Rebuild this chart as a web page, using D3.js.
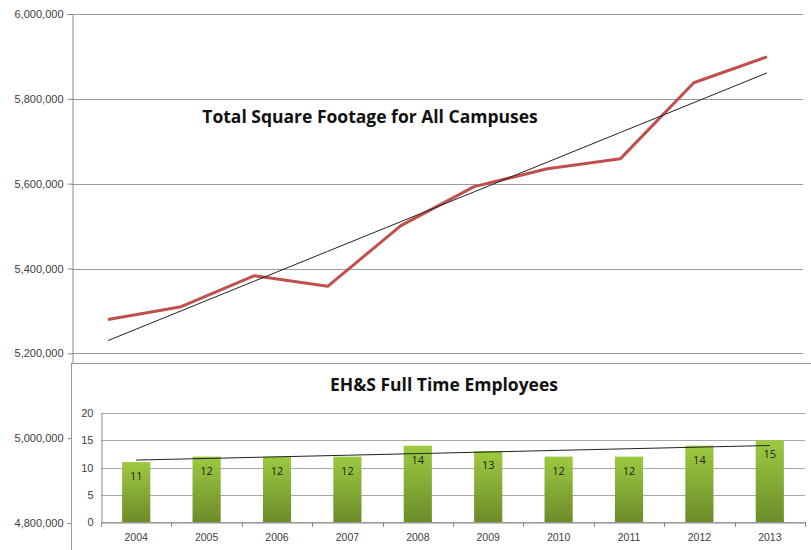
<!DOCTYPE html>
<html>
<head>
<meta charset="utf-8">
<script src="https://cdn.jsdelivr.net/npm/d3@7"></script>
<style>
  body { margin: 0; background: #fff; }
  svg { display: block; font-family: "Open Sans", "Noto Sans", sans-serif; }
  .tick text { fill: #444; }
</style>
</head>
<body>
<svg width="811" height="550"></svg>
<script>
var years = ["2004","2005","2006","2007","2008","2009","2010","2011","2012","2013"];
var sqFootage = [5280000, 5310000, 5383000, 5358000, 5501000, 5593000, 5635000, 5659000, 5838000, 5899000];
var employees = [11, 12, 12, 12, 14, 13, 12, 12, 14, 15];
var sqTicks = [4800000, 5000000, 5200000, 5400000, 5600000, 5800000, 6000000];
var empTicks = [0, 5, 10, 15, 20];

// least squares trend, like excel's linear trendline
function trend(vals) {
  var n = vals.length, mx = (n - 1) / 2, my = d3.mean(vals);
  var num = d3.sum(vals, function(v, i) { return (i - mx) * (v - my); });
  var den = d3.sum(vals, function(v, i) { return (i - mx) * (i - mx); });
  var b = num / den;
  return vals.map(function(v, i) { return my + b * (i - mx); });
}

var svg = d3.select("svg");

// ---- top chart
var x = d3.scalePoint().domain(years).range([108, 767]);
var y = d3.scaleLinear().domain([4800000, 6000000]).range([523, 14]);

svg.append("g")
  .selectAll("line")
  .data(sqTicks)
  .enter()
  .append("line")
  .attr("x1", 72).attr("x2", 803)
  .attr("y1", function(d) { return Math.round(y(d)) + 0.5; })
  .attr("y2", function(d) { return Math.round(y(d)) + 0.5; })
  .style("stroke", "#9a9a9a");

var yAxis = svg.append("g")
  .attr("transform", "translate(72.5,0)")
  .call(d3.axisLeft(y).tickValues(sqTicks).tickSize(5).tickPadding(4).tickFormat(d3.format(",")));
yAxis.select(".domain").style("stroke", "#8a8a8a");
yAxis.selectAll(".tick line").style("stroke", "#8a8a8a");
yAxis.selectAll("text").style("font-size", "11px").style("fill", "#404040");

var line = d3.line()
  .x(function(d, i) { return x(years[i]); })
  .y(function(d) { return y(d); });

svg.append("path")
  .datum(sqFootage)
  .attr("d", line)
  .style("fill", "none")
  .style("stroke", "#c0504d")
  .style("stroke-width", 3)
  .style("stroke-linejoin", "round");

svg.append("path")
  .datum(trend(sqFootage))
  .attr("d", line)
  .style("fill", "none")
  .style("stroke", "#222")
  .style("stroke-width", 1);

svg.append("text")
  .attr("x", 370).attr("y", 123)
  .attr("text-anchor", "middle")
  .style("font-size", "17.5px")
  .style("font-weight", "bold")
  .style("fill", "#111")
  .text("Total Square Footage for All Campuses");

// ---- inset chart
var inset = svg.append("g");
inset.append("rect")
  .attr("x", 71.5).attr("y", 363.5)
  .attr("width", 745).attr("height", 200)
  .style("fill", "#fff")
  .style("stroke", "#9a9a9a");

var defs = svg.append("defs");
var grad = defs.append("linearGradient")
  .attr("id", "barGrad")
  .attr("x1", 0).attr("y1", 0).attr("x2", 0).attr("y2", 1);
grad.append("stop").attr("offset", "0%").attr("stop-color", "#9dca41");
grad.append("stop").attr("offset", "100%").attr("stop-color", "#6b8c2a");

var bx = d3.scaleBand().domain(years).range([101, 805]).paddingInner(0.6).paddingOuter(0.3);
var by = d3.scaleLinear().domain([0, 20]).range([522, 413]);

inset.append("g")
  .selectAll("line")
  .data(empTicks)
  .enter()
  .append("line")
  .attr("x1", 101).attr("x2", 805)
  .attr("y1", function(d) { return Math.round(by(d)) + 0.5; })
  .attr("y2", function(d) { return Math.round(by(d)) + 0.5; })
  .style("stroke", "#a8a8a8");

var byAxis = inset.append("g")
  .attr("transform", "translate(101.5,0)")
  .call(d3.axisLeft(by).tickValues(empTicks).tickSize(0).tickPadding(8));
byAxis.select(".domain").style("stroke", "#8a8a8a");
byAxis.selectAll("text").style("font-size", "11px").style("fill", "#404040");

var bands = d3.scaleBand().domain(years).range([101, 805]);
var bxAxis = inset.append("g")
  .attr("transform", "translate(0,522.5)")
  .call(d3.axisBottom(bands).tickSize(0).tickPadding(11));
bxAxis.select(".domain").style("stroke", "#8a8a8a");
bxAxis.selectAll("text").style("font-size", "10.5px").style("fill", "#404040");
inset.append("g")
  .selectAll("line")
  .data(d3.range(years.length + 1))
  .enter()
  .append("line")
  .attr("x1", function(i) { return Math.round(101 + i * bands.step()) + 0.5; })
  .attr("x2", function(i) { return Math.round(101 + i * bands.step()) + 0.5; })
  .attr("y1", 522).attr("y2", 527)
  .style("stroke", "#8a8a8a");

inset.selectAll(".bar")
  .data(employees)
  .enter()
  .append("rect")
  .attr("class", "bar")
  .attr("x", function(d, i) { return bx(years[i]); })
  .attr("width", bx.bandwidth())
  .attr("y", function(d) { return by(d); })
  .attr("height", function(d) { return by(0) - by(d); })
  .style("fill", "url(#barGrad)");

inset.selectAll(".lbl")
  .data(employees)
  .enter()
  .append("text")
  .attr("class", "lbl")
  .attr("x", function(d, i) { return bx(years[i]) + bx.bandwidth() / 2; })
  .attr("y", function(d) { return by(d) + 18; })
  .attr("text-anchor", "middle")
  .style("font-size", "11px")
  .style("fill", "#222")
  .text(function(d) { return d; });

var bline = d3.line()
  .x(function(d, i) { return bands(years[i]) + bands.bandwidth() / 2; })
  .y(function(d) { return by(d); });

inset.append("path")
  .datum(trend(employees))
  .attr("d", bline)
  .style("fill", "none")
  .style("stroke", "#222")
  .style("stroke-width", 1);

inset.append("text")
  .attr("x", 444).attr("y", 391)
  .attr("text-anchor", "middle")
  .style("font-size", "17.5px")
  .style("font-weight", "bold")
  .style("fill", "#111")
  .text("EH&S Full Time Employees");
</script>
</body>
</html>
